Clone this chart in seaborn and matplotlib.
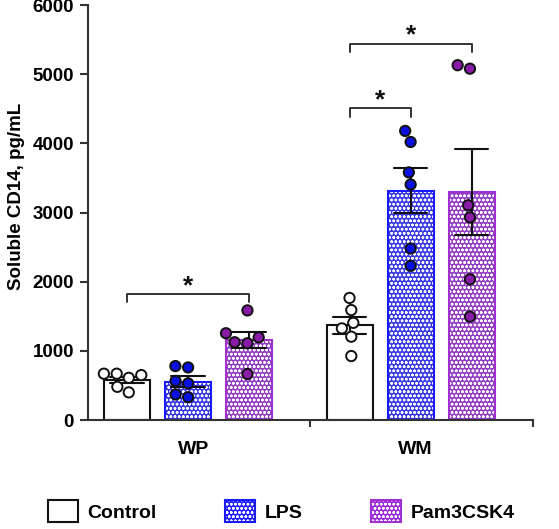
import numpy as np
import pandas as pd
import matplotlib
matplotlib.use("Agg")
import matplotlib.pyplot as plt
import matplotlib.patches as mpatches
import matplotlib.transforms as mtransforms
from matplotlib.colors import to_rgba
import seaborn as sns

# ---------------- data ----------------
regions = ["WP", "WM"]
treatments = ["Control", "LPS", "Pam3CSK4"]
wp_control = [650, 610, 670, 670, 400, 480]
wp_lps = [760, 780, 530, 565, 330, 370]
wp_pam = [1585, 1195, 1255, 1110, 1125, 665]
wm_control = [1765, 1590, 1325, 1405, 1205, 925]
wm_lps = [4180, 4020, 3580, 3405, 2480, 2230]
wm_pam = [5080, 5130, 3105, 2930, 2035, 1495]
y_ticks = [0, 1000, 2000, 3000, 4000, 5000, 6000]
# significance brackets: (region, treatment A, treatment B, bracket height, leg bottom)
sig_pairs = [("WP", "Control", "Pam3CSK4", 1816, 1705),
             ("WM", "Control", "LPS", 4509, 4383),
             ("WM", "Control", "Pam3CSK4", 5443, 5321)]

series = {("WP", "Control"): wp_control, ("WP", "LPS"): wp_lps, ("WP", "Pam3CSK4"): wp_pam,
          ("WM", "Control"): wm_control, ("WM", "LPS"): wm_lps, ("WM", "Pam3CSK4"): wm_pam}
rows = []
for (r, t), vals in series.items():
    for v in vals:
        rows.append({"region": r, "treatment": t, "value": v})
df = pd.DataFrame(rows)

# ---------------- style ----------------
sns.set_theme(style="ticks")
plt.rcParams["font.family"] = ["Liberation Sans", "DejaVu Sans"]
plt.rcParams["font.weight"] = "bold"
plt.rcParams["hatch.linewidth"] = 0.7
for k in ["text.color", "axes.labelcolor", "xtick.labelcolor", "ytick.labelcolor"]:
    plt.rcParams[k] = "black"

edge_cols = {"Control": "#111111", "LPS": "#1a1aff", "Pam3CSK4": "#a030d0"}
face_cols = {"Control": "#ffffff", "LPS": "#1e1eff", "Pam3CSK4": "#9a28d8"}
point_fill = {"Control": "#ffffff", "LPS": "#0a10e0", "Pam3CSK4": "#8a1aa8"}
axis_col = "#333333"
hatch_pat = "oooo"

fig = plt.figure(figsize=(5.59, 5.29), dpi=100)
ax = fig.add_axes([0.1574, 0.206, 0.7961, 0.7845])

sns.barplot(data=df, x="region", y="value", hue="treatment", order=regions,
            hue_order=treatments, palette=face_cols, errorbar="se",
            width=0.822, gap=0.245, capsize=0.45,
            err_kws={"color": "#111111", "linewidth": 1.5},
            linewidth=1.5, legend=False, ax=ax, zorder=2)

bars = sorted(ax.patches, key=lambda p: p.get_x())
centers = {}
for i, p in enumerate(bars):
    t = treatments[i % 3]
    r = regions[i // 3]
    centers[(r, t)] = p.get_x() + p.get_width() / 2
    p.set_edgecolor(edge_cols[t])
    p.set_linewidth(1.5)
    if t != "Control":
        p.set_hatch(hatch_pat)
        p._hatch_color = to_rgba("white")

sns.swarmplot(data=df, x="region", y="value", hue="treatment", order=regions,
              hue_order=treatments, palette=point_fill, dodge=True, size=7.4,
              edgecolor="#111111", linewidth=1.4, legend=False, ax=ax, zorder=4)

for ln in ax.lines:
    ln.set_zorder(3)

# ---------------- axes ----------------
ax.set_xlim(-0.45, 1.55)
ax.set_ylim(0, 6000)
ax.set_yticks(y_ticks)
ax.set_yticklabels([str(v) for v in y_ticks], fontsize=13.5, fontweight="bold")
ax.set_xticks([0, 1])
ax.set_xticklabels(regions, fontsize=14, fontweight="bold")
ax.tick_params(axis="x", which="major", length=0, pad=15)
ax.set_xticks([0.55, 1.55], minor=True)
ax.tick_params(axis="x", which="minor", length=5, width=1.5, color=axis_col, direction="out")
ax.tick_params(axis="y", length=6, width=1.5, color=axis_col, pad=4)
offset = mtransforms.ScaledTranslation(5 / 100, 0, fig.dpi_scale_trans)
for lab in ax.get_xticklabels():
    lab.set_transform(lab.get_transform() + offset)
for s in ["top", "right"]:
    ax.spines[s].set_visible(False)
for s in ["left", "bottom"]:
    ax.spines[s].set_linewidth(1.5)
    ax.spines[s].set_color(axis_col)
ax.set_xlabel("")
ax.set_ylabel("Soluble CD14, pg/mL", fontsize=13.5, fontweight="bold")
ax.yaxis.set_label_coords(-0.142, 0.54)

# ---------------- significance ----------------
for r, a, b, h, low in sig_pairs:
    xa, xb = centers[(r, a)], centers[(r, b)]
    ax.plot([xa, xa, xb, xb], [low, h, h, low], color=axis_col, lw=1.4,
            zorder=5, clip_on=False)
    ax.text((xa + xb) / 2, h + 120, "*", ha="center", va="center",
            fontsize=19, fontweight="bold", color="#111111")

# ---------------- legend ----------------
handles = []
for t in treatments:
    hp = mpatches.Patch(facecolor=face_cols[t], edgecolor=edge_cols[t], linewidth=1.5,
                        hatch=None if t == "Control" else hatch_pat, label=t)
    if t != "Control":
        hp._hatch_color = to_rgba("white")
    handles.append(hp)
leg = fig.legend(handles=handles, loc="center", bbox_to_anchor=(0.503, 0.034), ncol=3,
                 frameon=False, prop={"size": 14, "weight": "bold"},
                 handlelength=1.55, handleheight=1.35, handletextpad=0.5,
                 columnspacing=3.5)

fig.savefig("out.png", dpi=100)
